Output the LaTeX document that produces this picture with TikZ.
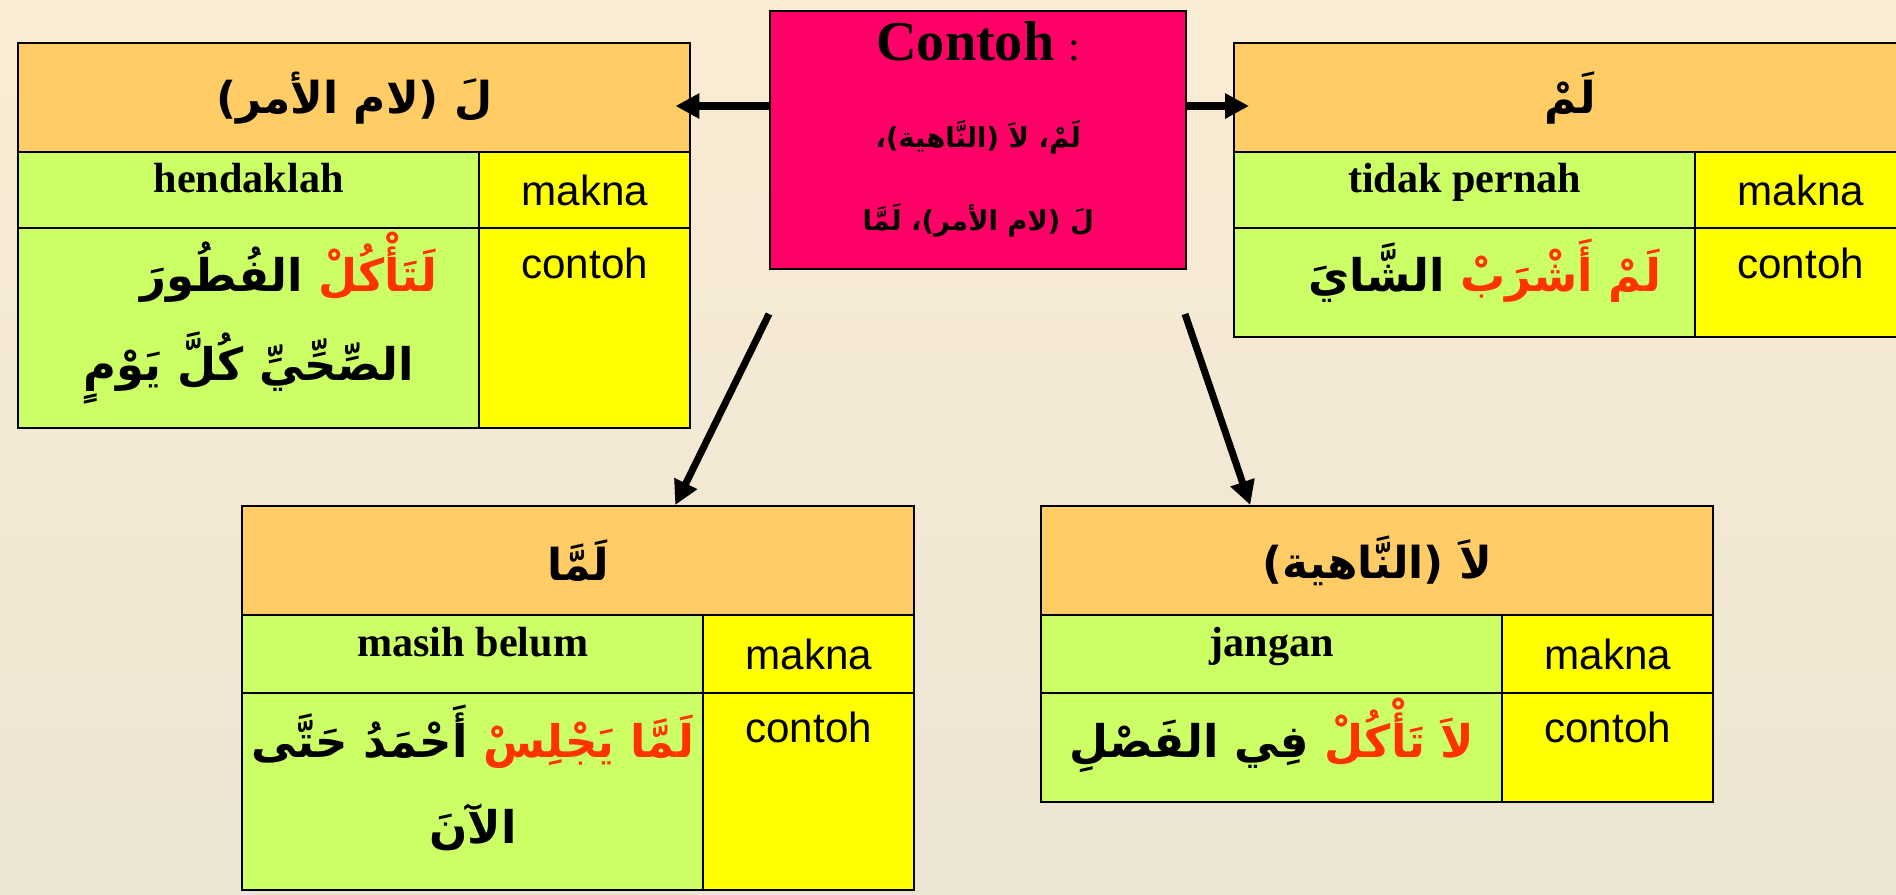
\documentclass[tikz,border=0pt]{standalone}
\usepackage{fontspec}
\setmainfont{Liberation Serif}
\newfontfamily\arialfont{Liberation Sans}
\newfontfamily\arabicfont[Script=Arabic]{DejaVu Sans}
\TeXXeTstate=1
\usetikzlibrary{arrows.meta}
\definecolor{bgtop}{RGB}{250,236,212}
\definecolor{bgbot}{RGB}{236,229,211}
\definecolor{hdorange}{RGB}{255,204,102}
\definecolor{cellgreen}{RGB}{204,255,102}
\definecolor{cellyellow}{RGB}{255,255,0}
\definecolor{boxpink}{RGB}{255,0,102}
\definecolor{arabred}{RGB}{255,51,0}
\newcommand{\artext}[1]{{\arabicfont\bfseries\beginR #1\endR}}
% red words first (right), black words after (left)
\newcommand{\exline}[2]{\hbox{\arabicfont\bfseries\artext{#2} {\color{arabred}\artext{#1}}}}

\begin{document}
\begin{tikzpicture}[
	cell/.style={draw=black, line width=0.7pt, anchor=north west, inner sep=0pt},
	hdcell/.style={cell, fill=hdorange, minimum width=6.72cm, minimum height=1.09cm, font=\fontsize{12.5}{15}\selectfont},
	mncell/.style={cell, fill=cellgreen, minimum width=4.61cm},
	kycell/.style={cell, fill=cellyellow, minimum width=2.11cm, font=\arialfont\fontsize{12}{14}\selectfont},
	mntext/.style={anchor=base, inner sep=0pt, font=\bfseries\fontsize{12}{14}\selectfont},
	kytext/.style={anchor=base, inner sep=0pt, font=\arialfont\fontsize{12}{14}\selectfont},
	extext/.style={anchor=base, inner sep=0pt, font=\fontsize{12.8}{15}\selectfont},
	arr/.style={line width=2pt, -{Triangle[length=2.4mm,width=2.4mm]}}
	]
	\useasboundingbox (0,0) rectangle (18.96,-8.94);
	\fill[top color=bgtop, bottom color=bgbot] (0,0) rectangle (18.96,-8.94);

	% centre box
	\node[cell, fill=boxpink, minimum width=4.16cm, minimum height=2.58cm] (contoh) at (7.69,-0.10) {};
	\node[anchor=base, inner sep=0pt, font=\bfseries\fontsize{16}{19}\selectfont] (ctitle) at ([yshift=-5mm]contoh.north) {Contoh {\mdseries\fontsize{12}{14}\selectfont :}};
	\node[anchor=base, inner sep=0pt, font=\fontsize{7.8}{9}\selectfont] (cline1) at ([yshift=-13.7mm]contoh.north) {\artext{لَمْ، لاَ (النَّاهية)،}};
	\node[anchor=base, inner sep=0pt, font=\fontsize{7.8}{9}\selectfont] (cline2) at ([yshift=-22mm]contoh.north) {\artext{لَ (لام الأمر)، لَمَّا}};

	% lam al-amr
	\node[hdcell] (amrhd) at (0.17,-0.42) {\artext{لَ (لام الأمر)}};
	\node[mncell, minimum height=0.76cm] (amrmn) at (0.17,-1.51) {};
	\node[kycell, minimum height=0.76cm] (amrmk) at (4.78,-1.51) {makna};
	\node[mncell, minimum height=2.00cm] (amrex) at (0.17,-2.27) {};
	\node[kycell, minimum height=2.00cm] (amrck) at (4.78,-2.27) {};
	\node[mntext] (amrmt) at ([yshift=-4.1mm]amrmn.north) {hendaklah};
	\node[kytext] (amrct) at ([yshift=-5.1mm]amrck.north) {contoh};
	\node[extext] (amrl1) at ([xshift=4mm,yshift=-6.4mm]amrex.north) {\exline{لَتَأْكُلْ}{الفُطُورَ}};
	\node[extext] (amrl2) at ([yshift=-15.3mm]amrex.north) {\artext{الصِّحِّيِّ كُلَّ يَوْمٍ}};

	% lam
	\node[hdcell] (lamhd) at (12.33,-0.42) {\artext{لَمْ}};
	\node[mncell, minimum height=0.76cm] (lammn) at (12.33,-1.51) {};
	\node[kycell, minimum height=0.76cm] (lammk) at (16.94,-1.51) {makna};
	\node[mncell, minimum height=1.09cm] (lamex) at (12.33,-2.27) {};
	\node[kycell, minimum height=1.09cm] (lamck) at (16.94,-2.27) {};
	\node[mntext] (lammt) at ([yshift=-4.1mm]lammn.north) {tidak pernah};
	\node[kytext] (lamct) at ([yshift=-5.1mm]lamck.north) {contoh};
	\node[extext] (laml1) at ([xshift=2mm,yshift=-6.4mm]lamex.north) {\exline{لَمْ أَشْرَبْ}{الشَّايَ}};

	% lamma
	\node[hdcell] (lmahd) at (2.41,-5.05) {\artext{لَمَّا}};
	\node[mncell, minimum height=0.78cm] (lmamn) at (2.41,-6.14) {};
	\node[kycell, minimum height=0.78cm] (lmamk) at (7.02,-6.14) {makna};
	\node[mncell, minimum height=1.97cm] (lmaex) at (2.41,-6.92) {};
	\node[kycell, minimum height=1.97cm] (lmack) at (7.02,-6.92) {};
	\node[mntext] (lmamt) at ([yshift=-4.2mm]lmamn.north) {masih belum};
	\node[kytext] (lmact) at ([yshift=-5.0mm]lmack.north) {contoh};
	\node[extext] (lmal1) at ([yshift=-6.5mm]lmaex.north) {\exline{لَمَّا يَجْلِسْ}{أَحْمَدُ حَتَّى}};
	\node[extext] (lmal2) at ([yshift=-15.1mm]lmaex.north) {\artext{الآنَ}};

	% la an-nahiya
	\node[hdcell] (nahhd) at (10.40,-5.05) {\artext{لاَ (النَّاهية)}};
	\node[mncell, minimum height=0.78cm] (nahmn) at (10.40,-6.14) {};
	\node[kycell, minimum height=0.78cm] (nahmk) at (15.01,-6.14) {makna};
	\node[mncell, minimum height=1.09cm] (nahex) at (10.40,-6.92) {};
	\node[kycell, minimum height=1.09cm] (nahck) at (15.01,-6.92) {};
	\node[mntext] (nahmt) at ([yshift=-4.2mm]nahmn.north) {jangan};
	\node[kytext] (nahct) at ([yshift=-5.0mm]nahck.north) {contoh};
	\node[extext] (nahl1) at ([yshift=-6.5mm]nahex.north) {\exline{لاَ تَأْكُلْ}{فِي الفَصْلِ}};

	% arrows
	\coordinate (aL) at (7.69,-1.06);
	\coordinate (aR) at (11.85,-1.06);
	\coordinate (dL) at (7.69,-3.14);
	\coordinate (dR) at (11.85,-3.14);
	\draw[arr] (aL) -- ([xshift=-1.6mm]aL -| amrhd.east);
	\draw[arr] (aR) -- ([xshift=1.6mm]aR -| lamhd.west);
	\draw[arr] (dL) -- ([xshift=9.7mm]lmahd.north);
	\draw[arr] (dR) -- ([xshift=-12.7mm]nahhd.north);
\end{tikzpicture}
\end{document}
